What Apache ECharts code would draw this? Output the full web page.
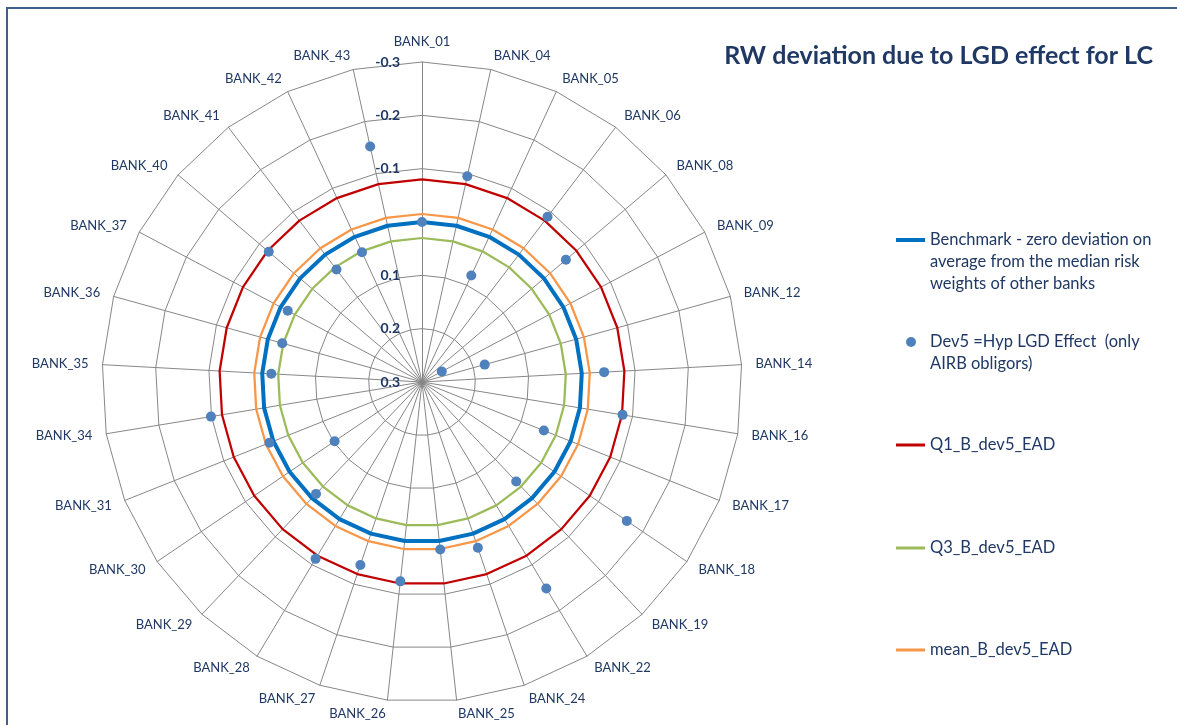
<!DOCTYPE html>
<html><head><meta charset="utf-8">
<script src="https://cdn.jsdelivr.net/npm/echarts@6/dist/echarts.min.js"></script>
<style>html,body{margin:0;padding:0;background:#fff}#c{width:1177px;height:725px}</style>
</head><body><div id="c"></div>
<script>
// Categories in clockwise order starting at the top
const banks = ['BANK_01','BANK_04','BANK_05','BANK_06','BANK_08','BANK_09','BANK_12','BANK_14','BANK_16','BANK_17',
  'BANK_18','BANK_19','BANK_22','BANK_24','BANK_25','BANK_26','BANK_27','BANK_28','BANK_29','BANK_30',
  'BANK_31','BANK_34','BANK_35','BANK_36','BANK_37','BANK_40','BANK_41','BANK_42','BANK_43'];
const dev5 = [0.000,-0.095,0.080,-0.089,-0.054,0.258,0.178,-0.042,-0.081,0.054,
  -0.164,0.043,-0.152,-0.028,-0.016,-0.076,-0.062,-0.087,0.011,0.102,
  -0.008,-0.101,0.017,0.028,0.015,-0.077,0.035,0.032,-0.152];
const benchmark = [0,0,0,0,0,0,0,0,0,0,0,0,0,0,0,0,0,0,0,0,0,0,0,0,0,0,0,0,0];
const q1 = [-0.08,-0.08,-0.08,-0.08,-0.08,-0.08,-0.08,-0.08,-0.08,-0.08,-0.08,-0.08,-0.08,-0.08,-0.08,
  -0.08,-0.08,-0.08,-0.08,-0.08,-0.08,-0.08,-0.08,-0.08,-0.08,-0.08,-0.08,-0.08,-0.08];
const q3 = [0.03,0.03,0.03,0.03,0.03,0.03,0.03,0.03,0.03,0.03,0.03,0.03,0.03,0.03,0.03,
  0.03,0.03,0.03,0.03,0.03,0.03,0.03,0.03,0.03,0.03,0.03,0.03,0.03,0.03];
const mean = [-0.015,-0.015,-0.015,-0.015,-0.015,-0.015,-0.015,-0.015,-0.015,-0.015,-0.015,-0.015,-0.015,-0.015,-0.015,
  -0.015,-0.015,-0.015,-0.015,-0.015,-0.015,-0.015,-0.015,-0.015,-0.015,-0.015,-0.015,-0.015,-0.015];
const axisMin = -0.3, axisMax = 0.3;
const titleText = 'RW deviation due to LGD effect for LC';
const names = {
  bench: 'Benchmark - zero deviation on average from the median risk weights of other banks',
  dev5: 'Dev5 =Hyp LGD Effect  (only AIRB obligors)',
  q1: 'Q1_B_dev5_EAD', q3: 'Q3_B_dev5_EAD', mean: 'mean_B_dev5_EAD'
};
// Wrapped legend texts; leading blank lines keep the first line level with the legend icon
const legendLines = {};
legendLines[names.bench] = '\n\nBenchmark - zero deviation on\naverage from the median risk\nweights of other banks';
legendLines[names.dev5] = '\nDev5 =Hyp LGD Effect  (only\nAIRB obligors)';

// ECharts radar runs counter-clockwise: keep the first, reverse the rest
const order = [0];
for (let i = banks.length - 1; i >= 1; i--) order.push(i);
const pick = arr => order.map(i => arr[i]);

const FONT = 'Lato';
const NAVY = '#1F3864';
const LH = 22;
const CENTER = [422, 382];
const R = 320;

// Inverted value radar (grid, spokes, value labels, data)
const indicator = order.map((i, k) => {
  const o = { name: banks[i], min: axisMin, max: axisMax };
  if (k === 0) o.axisLabel = { show: true };
  return o;
});
// Plain radar used only for the category names around the outside
const nameIndicator = order.map(i => ({ name: banks[i], min: axisMin, max: axisMax }));

const chart = echarts.init(document.getElementById('c'));
const lineSeries = (name, data, color, width) => ({
  type: 'radar', radarIndex: 0, name: name, symbol: 'none', z: 2,
  lineStyle: { color: color, width: width },
  itemStyle: { color: color },
  data: [{ value: pick(data), name: name }]
});
const legendText = { color: NAVY, fontSize: 16.5, fontFamily: FONT, lineHeight: LH };
const legendBase = {
  orient: 'vertical', padding: 0, itemGap: 0,
  textStyle: legendText,
  formatter: n => legendLines[n] || n
};
chart.setOption({
  animation: false,
  backgroundColor: '#ffffff',
  title: { text: titleText, right: 19, top: 38,
    textStyle: { color: NAVY, fontSize: 25, fontWeight: 'bold', fontFamily: FONT } },
  radar: [{
    center: CENTER, radius: [R, 0], startAngle: 90, splitNumber: 6, shape: 'polygon',
    axisName: { show: false },
    splitArea: { show: false },
    splitLine: { lineStyle: { color: '#878787', width: 1 } },
    axisLine: { lineStyle: { color: '#878787', width: 1 } },
    axisTick: { show: false },
    axisLabel: { show: false, color: NAVY, fontWeight: 'bold', fontSize: 14, fontFamily: FONT, margin: 22,
      formatter: v => { const r = Math.round(v * 10) / 10; return r === 0 ? '' : String(r); } },
    indicator: indicator
  }, {
    center: CENTER, radius: R, startAngle: 90, splitNumber: 6, shape: 'polygon',
    nameGap: 14,
    axisName: { color: NAVY, fontSize: 13, fontFamily: FONT },
    splitArea: { show: false }, splitLine: { show: false }, axisLine: { show: false },
    axisTick: { show: false }, axisLabel: { show: false },
    indicator: nameIndicator
  }],
  legend: [
    Object.assign({}, legendBase, { data: [names.bench], left: 896, top: 185, itemWidth: 29, itemHeight: 4, icon: 'rect' }),
    Object.assign({}, legendBase, { data: [{ name: names.dev5, icon: 'circle' }], left: 906, top: 309, itemWidth: 10, itemHeight: 10,
      textStyle: Object.assign({}, legendText, { padding: [0, 0, 0, 9] }) }),
    Object.assign({}, legendBase, { data: [names.q1], left: 896, top: 434, itemWidth: 29, itemHeight: 3, icon: 'rect' }),
    Object.assign({}, legendBase, { data: [names.q3], left: 896, top: 537, itemWidth: 29, itemHeight: 3, icon: 'rect' }),
    Object.assign({}, legendBase, { data: [names.mean], left: 896, top: 639, itemWidth: 29, itemHeight: 3, icon: 'rect' })
  ],
  series: [
    lineSeries(names.bench, benchmark, '#0070C0', 4),
    {
      type: 'radar', radarIndex: 0, name: names.dev5, symbol: 'circle', symbolSize: 10, z: 3,
      lineStyle: { width: 0, opacity: 0 },
      itemStyle: { color: '#4F81BD' },
      data: [{ value: pick(dev5), name: names.dev5 }]
    },
    lineSeries(names.q1, q1, '#C00000', 2.25),
    lineSeries(names.q3, q3, '#9BBB59', 2.25),
    lineSeries(names.mean, mean, '#F79646', 2.25)
  ],
  graphic: [
    { type: 'line', shape: { x1: 6, y1: 8, x2: 1177, y2: 8 }, style: { stroke: '#3F6185', lineWidth: 2 } },
    { type: 'line', shape: { x1: 7, y1: 7, x2: 7, y2: 725 }, style: { stroke: '#3F6185', lineWidth: 2 } }
  ]
});
</script></body></html>
